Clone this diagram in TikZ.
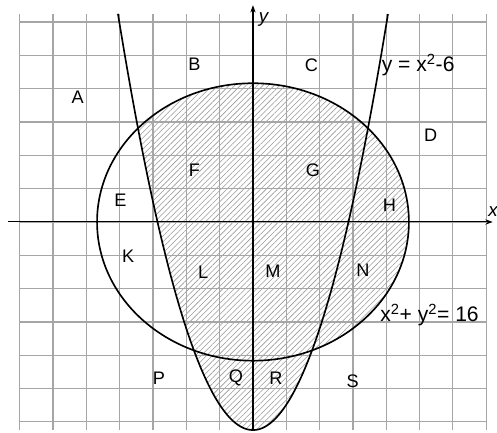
\documentclass[tikz,border=0pt]{standalone}
\usepackage{fontspec}
\setmainfont{Liberation Sans}
\usetikzlibrary{arrows.meta,patterns.meta}

\begin{document}
\begin{tikzpicture}[x=1.17cm, y=1.041cm,
    gridline/.style={draw=gray!70, line width=1pt},
    curve/.style={draw=black, line width=1.4pt},
    axis/.style={-{Stealth[length=2.2mm, width=1.6mm]}, line width=0.9pt},
    hatch/.style={pattern={Lines[angle=45, distance=3.4pt, line width=0.5pt]},
      pattern color=gray!80},
    region/.style={font=\fontsize{15.5}{17}\selectfont},
    eqn/.style={font=\fontsize{18}{20}\selectfont, anchor=west, inner sep=0pt},
    axlabel/.style={font=\fontsize{16}{18}\selectfont\itshape},
  ]
  \useasboundingbox (-6.49,-6.08) rectangle (6.26,6.40);

  % Shaded region
  \fill[hatch] plot[domain=-2.9498:1.516, samples=80] (\x,{\x*\x-6})
    -- plot[domain=-67.73:137.52, samples=100] ({4*cos(\x)},{4*sin(\x)}) -- cycle;

  % Grid
  \draw[gridline] (-6,-6) grid (6,6);

  % Axes
  \coordinate (xfrom) at (-6.28,0);
  \coordinate (xto) at (6.15,0);
  \coordinate (yfrom) at (0,-6);
  \coordinate (yto) at (0,6.25);
  \draw[axis] (xfrom) -- (xto);
  \draw[axis] (yfrom) -- (yto);
  \node[axlabel] (ylbl) at (0.27,5.85) {y};
  \node[axlabel] (xlbl) at (6.16,0.3) {x};

  % Curves
  \draw[curve] (0,0) circle[radius=4];
  \draw[curve] plot[domain=-3.4641:3.4641, samples=120] (\x,{\x*\x-6});

  % Region letters
  \foreach \name/\px/\py in {A/-4.5/3.6, B/-1.5/4.55, C/1.5/4.52, D/4.56/2.5,
      E/-3.4/0.63, F/-1.5/1.5, G/1.54/1.5, H/3.5/0.49,
      K/-3.2/-0.98, L/-1.28/-1.44, M/0.51/-1.41, N/2.82/-1.38,
      P/-2.41/-4.5, Q/-0.44/-4.5, R/0.59/-4.5, S/2.56/-4.58}
    \node[region] (\name) at (\px,\py) {\name};

  % Equations
  \node[eqn] (parab) at (3.3,4.52) {y = x\textsuperscript{2}-6};
  \node[eqn] (circ) at (3.26,-2.68) {x\textsuperscript{2}+ y\textsuperscript{2}= 16};
\end{tikzpicture}
\end{document}
